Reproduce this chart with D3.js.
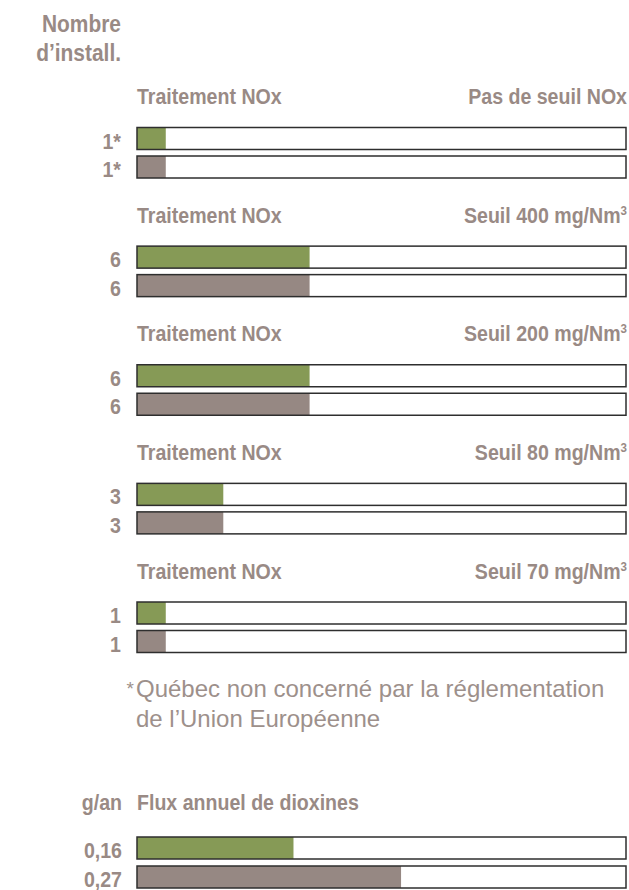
<!DOCTYPE html>
<html>
<head>
<meta charset="utf-8">
<script src="https://cdn.jsdelivr.net/npm/d3@7"></script>
<style>
  body { margin: 0; background: #fff; }
  svg { display: block; }
  .head { font-family: "Liberation Sans", Arial, sans-serif; font-weight: bold; fill: #998a85; }
  .note { font-family: "Liberation Sans", Arial, sans-serif; fill: #9d908b; }
</style>
</head>
<body>
<script>
// données
const seuils = ["Pas de seuil NOx", "Seuil 400 mg/Nm", "Seuil 200 mg/Nm", "Seuil 80 mg/Nm", "Seuil 70 mg/Nm"];
const avecTraitement = [1, 6, 6, 3, 1];
const sansTraitement = [1, 6, 6, 3, 1];
const etiquettes = ["1*", "6", "6", "3", "1"];
const dioxCategories = ["0,16", "0,27"];
const dioxValeurs = [0.16, 0.27];

const W = 629, H = 890;
const green = "#869a56", taupe = "#968883";
const left = 137, right = 626, barH = 22, barGap = 28.5;
const narrow = 0.89; // pas de police condensée : on resserre

const svg = d3.select("body").append("svg").attr("width", W).attr("height", H);

const x = d3.scaleLinear().domain([0, 17]).range([left, right]);
const xd = d3.scaleLinear().domain([0, 0.5]).range([left, right]);
const gy = d3.scaleLinear().domain([0, 4]).range([127.5, 602]);

// texte gras « condensé »
function label(parent, px, py, size, anchor, txt) {
  const t = parent.append("g")
    .attr("transform", "translate(" + px + "," + py + ") scale(" + narrow + ",1)")
    .append("text").attr("class", "head")
    .attr("text-anchor", anchor)
    .style("font-size", size + "px");
  if (txt != null) t.text(txt);
  return t;
}

// titre colonne
label(svg, 121, 32, 23.5, "end", "Nombre");
label(svg, 121, 61, 23.5, "end", "d\u2019install.");

const groups = svg.selectAll("g.grp")
  .data(seuils)
  .enter().append("g")
  .attr("class", "grp")
  .attr("transform", (d, i) => "translate(0," + gy(i) + ")");

function drawBar(g, yTop, w, color) {
  g.append("rect").attr("x", left).attr("y", yTop).attr("width", right - left).attr("height", barH)
    .attr("fill", "#fff");
  g.append("rect").attr("x", left).attr("y", yTop).attr("width", w).attr("height", barH)
    .attr("fill", color);
  g.append("rect").attr("x", left).attr("y", yTop).attr("width", right - left).attr("height", barH)
    .attr("fill", "none").attr("stroke", "#2e2e2e").attr("stroke-width", 1.5);
}

groups.each(function (d, i) {
  const g = d3.select(this);
  label(g, left, -23.3, 22, "start", "Traitement NOx");
  const s = label(g, right + 1, -23.3, 22, "end");
  s.append("tspan").text(d);
  if (i > 0) s.append("tspan").attr("dy", -8).style("font-size", "13px").text("3");

  drawBar(g, 0, x(avecTraitement[i]) - left, green);
  drawBar(g, barGap, x(sansTraitement[i]) - left, taupe);
  label(g, 121, 21, 22, "end", etiquettes[i]);
  label(g, 121, barGap + 21, 22, "end", etiquettes[i]);
});

// note
svg.append("text").attr("class", "note").attr("x", 134).attr("y", 695)
  .attr("text-anchor", "end").style("font-size", "19px").text("*");
svg.append("text").attr("class", "note").attr("x", 136).attr("y", 697)
  .style("font-size", "24px").text("Québec non concerné par la réglementation");
svg.append("text").attr("class", "note").attr("x", 136).attr("y", 727)
  .style("font-size", "24px").text("de l\u2019Union Européenne");

// dioxines
const dTop = 837;
label(svg, 122, dTop - 27, 22, "end", "g/an");
label(svg, left, dTop - 27, 22, "start", "Flux annuel de dioxines");

const gd = svg.append("g").attr("transform", "translate(0," + dTop + ")");
dioxValeurs.forEach((v, i) => {
  drawBar(gd, i * 29, xd(v) - left, i === 0 ? green : taupe);
  label(gd, 122, i * 29 + 21, 22, "end", dioxCategories[i]);
});
</script>
</body>
</html>
